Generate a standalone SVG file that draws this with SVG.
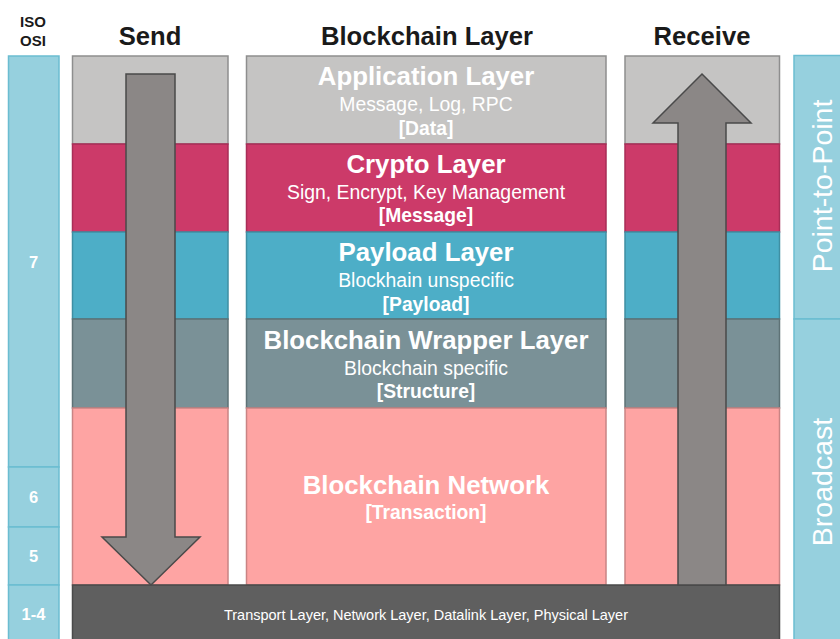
<svg xmlns="http://www.w3.org/2000/svg" width="840" height="639" viewBox="0 0 840 639">
<style>
text{font-family:"Liberation Sans",Arial,sans-serif;fill:#fff}
.hdr{font-size:25.6px;font-weight:bold;fill:#1a1a1a;text-anchor:middle}
.iso{font-size:15px;font-weight:bold;fill:#1a1a1a;text-anchor:middle}
.num{font-size:16.5px;font-weight:bold;text-anchor:middle}
.t{font-size:25.8px;font-weight:bold;text-anchor:middle}
.s{font-size:19.4px;text-anchor:middle}
.b{font-size:19.3px;font-weight:bold;text-anchor:middle}
.side{font-size:28.5px;text-anchor:middle}
.blue{fill:#96d0de;stroke:#6bbdd1;stroke-width:1.5}
.app{fill:#c5c4c3;stroke:#8e8e8e;stroke-width:1.5}
.cry{fill:#cc3a69;stroke:#a82e57;stroke-width:1.5}
.pay{fill:#4daec7;stroke:#3f8fa3;stroke-width:1.5}
.wra{fill:#7a9197;stroke:#5e7276;stroke-width:1.5}
.net{fill:#fea4a3;stroke:#c98484;stroke-width:1.5}
.arrow{fill:#8b8786;stroke:#4a4a4a;stroke-width:1.5;stroke-linejoin:miter}
</style>
<rect width="840" height="639" fill="#fff"/>
<g id="headers">
<text class="iso" x="33" y="27">ISO</text>
<text class="iso" x="33" y="46">OSI</text>
<text class="hdr" x="150" y="45">Send</text>
<text class="hdr" x="427" y="45">Blockchain Layer</text>
<text class="hdr" x="702" y="45">Receive</text>
</g>
<g id="iso-osi">
<g id="osi-7"><rect class="blue" x="8.5" y="56" width="50.5" height="411"/><text class="num" x="33.5" y="268">7</text></g>
<g id="osi-6"><rect class="blue" x="8.5" y="467" width="50.5" height="60"/><text class="num" x="33.5" y="503">6</text></g>
<g id="osi-5"><rect class="blue" x="8.5" y="527" width="50.5" height="58"/><text class="num" x="33.5" y="562">5</text></g>
<g id="osi-1-4"><rect class="blue" x="8.5" y="585" width="50.5" height="60"/><text class="num" x="33.5" y="620">1-4</text></g>
</g>
<g id="send-column">
<rect class="app" x="72.5" y="56" width="155.5" height="88"/>
<rect class="cry" x="72.5" y="144" width="155.5" height="88"/>
<rect class="pay" x="72.5" y="232" width="155.5" height="87"/>
<rect class="wra" x="72.5" y="319" width="155.5" height="89"/>
<rect class="net" x="72.5" y="408" width="155.5" height="177"/>
</g>
<g id="receive-column">
<rect class="app" x="625" y="56" width="154.5" height="88"/>
<rect class="cry" x="625" y="144" width="154.5" height="88"/>
<rect class="pay" x="625" y="232" width="154.5" height="87"/>
<rect class="wra" x="625" y="319" width="154.5" height="89"/>
<rect class="net" x="625" y="408" width="154.5" height="177"/>
</g>
<g id="application-layer">
<rect class="app" x="246.5" y="56" width="359.5" height="88"/>
<text class="t" x="426" y="85">Application Layer</text>
<text class="s" x="426" y="111">Message, Log, RPC</text>
<text class="b" x="426" y="135">[Data]</text>
</g>
<g id="crypto-layer">
<rect class="cry" x="246.5" y="144" width="359.5" height="88"/>
<text class="t" x="426" y="173">Crypto Layer</text>
<text class="s" x="426" y="199">Sign, Encrypt, Key Management</text>
<text class="b" x="426" y="222">[Message]</text>
</g>
<g id="payload-layer">
<rect class="pay" x="246.5" y="232" width="359.5" height="87"/>
<text class="t" x="426" y="261">Payload Layer</text>
<text class="s" x="426" y="287">Blockhain unspecific</text>
<text class="b" x="426" y="311">[Payload]</text>
</g>
<g id="wrapper-layer">
<rect class="wra" x="246.5" y="319" width="359.5" height="89"/>
<text class="t" x="426" y="349">Blockchain Wrapper Layer</text>
<text class="s" x="426" y="375">Blockchain specific</text>
<text class="b" x="426" y="398">[Structure]</text>
</g>
<g id="blockchain-network">
<rect class="net" x="246.5" y="408" width="359.5" height="177"/>
<text class="t" x="426" y="494">Blockchain Network</text>
<text class="b" x="426" y="519">[Transaction]</text>
</g>
<g id="transport">
<rect x="72.5" y="585" width="707" height="60" fill="#5f5f5f" stroke="#4a4a4a" stroke-width="1.5"/>
<text x="426" y="620" font-size="14.5" text-anchor="middle">Transport Layer, Network Layer, Datalink Layer, Physical Layer</text>
</g>
<g id="scope">
<g id="point-to-point"><rect class="blue" x="794" y="55.5" width="50" height="263.5"/><text class="side" transform="translate(832,186) rotate(-90)">Point-to-Point</text></g>
<g id="broadcast"><rect class="blue" x="794" y="319" width="50" height="325"/><text class="side" transform="translate(832,482) rotate(-90)">Broadcast</text></g>
</g>
<g id="connectors">
<polygon class="arrow" points="126,74 175,74 175,537 200,537 151,585 102,537 126,537"/>
<polygon class="arrow" points="702,74 751,123 726,123 726,585 678,585 678,123 653,123"/>
</g>
</svg>
